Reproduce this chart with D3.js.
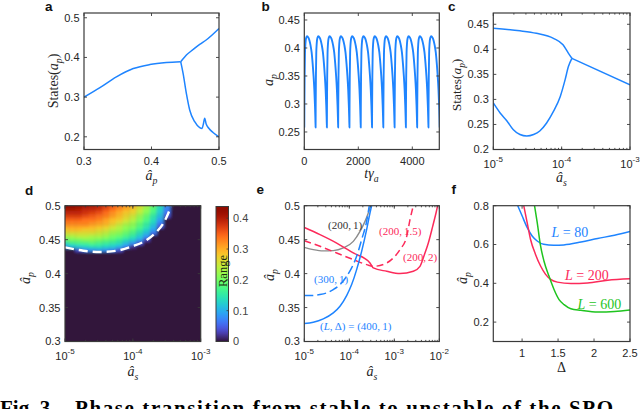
<!DOCTYPE html>
<html><head><meta charset="utf-8">
<script src="https://cdn.jsdelivr.net/npm/d3@7"></script>
<style>body{margin:0;background:#fff;overflow:hidden} svg{display:block}</style>
</head><body><svg id="fig" width="640" height="409"></svg>
<script>
// ---------------- DATA ----------------
// panel a: states vs a_p
const aStable = [[0.3,0.3],[0.3236,0.324],[0.348,0.351],[0.373,0.372],[0.3975,0.382],[0.422,0.387],[0.4433,0.389]];
const aUpper  = [[0.4433,0.389],[0.4517,0.406],[0.4616,0.42],[0.4714,0.433],[0.481,0.444],[0.5,0.473]];
const aLower  = [[0.4433,0.389],[0.4468,0.36],[0.4517,0.309],[0.4567,0.267],[0.464,0.238],[0.4714,0.223],[0.475,0.221],[0.4768,0.232],[0.4788,0.247],[0.481,0.232],[0.4852,0.221],[0.4911,0.211],[0.5,0.2]];
const aTicksX = [0.3,0.4,0.5], aTicksY = [0.2,0.3,0.4,0.5];
// panel b: time trace (trough times and one-cycle profile)
const bTroughs = [0,418,836,1254,1672,2090,2508,2926,3344,3762,4180,4598,5016];
const bShape = [[0,0.258],[0.01,0.3],[0.03,0.35],[0.06,0.39],[0.1,0.408],[0.16,0.418],[0.25,0.421],[0.35,0.419],[0.45,0.414],[0.55,0.405],[0.65,0.392],[0.74,0.372],[0.82,0.35],[0.89,0.325],[0.945,0.298],[0.98,0.275],[1,0.258]];
const bTicksX = [0,2000,4000], bTicksY = [0.25,0.3,0.35,0.4,0.45];
// panel c: states vs a_s (log10 a_s, a_p)
const cUpper = [[-5,0.442],[-4.61,0.437],[-4.37,0.432],[-4.12,0.422],[-3.98,0.409],[-3.9,0.392],[-3.85,0.382]];
const cRight = [[-3.85,0.382],[-3,0.329]];
const cLower = [[-5,0.293],[-4.9,0.273],[-4.8,0.257],[-4.71,0.24],[-4.61,0.23],[-4.51,0.227],[-4.41,0.23],[-4.32,0.237],[-4.22,0.253],[-4.12,0.276],[-4.02,0.306],[-3.95,0.339],[-3.9,0.366],[-3.85,0.382]];
const cTicksX = [1e-5,1e-4,1e-3], cTicksY = [0.2,0.25,0.3,0.35,0.4,0.45];
// panel d: Range map, columns = log10 a_s, rows = a_p
const dCols = [-5.0,-4.9,-4.8,-4.7,-4.6,-4.5,-4.4,-4.3,-4.2,-4.1,-4.0,-3.9,-3.8,-3.7,-3.6,-3.5,-3.4];
const dRows = [0.430,0.435,0.440,0.445,0.450,0.455,0.460,0.465,0.470,0.475,0.480,0.485,0.490,0.495,0.500];
const dRange = [
 [0,0,0.08,0.14,0.19,0.23,0.26,0.28,0.31,0.33,0.35,0.37,0.39,0.41,0.43],
 [0,0,0.11,0.16,0.20,0.23,0.26,0.29,0.31,0.33,0.35,0.37,0.39,0.41,0.425],
 [0,0.04,0.12,0.17,0.20,0.24,0.26,0.29,0.31,0.33,0.35,0.37,0.39,0.40,0.42],
 [0,0.07,0.13,0.17,0.21,0.24,0.26,0.28,0.31,0.33,0.34,0.36,0.38,0.39,0.41],
 [0,0.08,0.14,0.18,0.21,0.23,0.26,0.28,0.30,0.32,0.34,0.35,0.37,0.39,0.40],
 [0,0.09,0.14,0.17,0.20,0.23,0.25,0.27,0.29,0.31,0.33,0.34,0.36,0.38,0.39],
 [0,0.08,0.13,0.16,0.19,0.22,0.24,0.26,0.28,0.30,0.31,0.33,0.34,0.36,0.37],
 [0,0.07,0.12,0.15,0.18,0.20,0.22,0.24,0.26,0.28,0.29,0.31,0.32,0.34,0.35],
 [0,0.04,0.10,0.14,0.16,0.19,0.21,0.23,0.24,0.26,0.28,0.29,0.30,0.32,0.33],
 [0,0,0.07,0.11,0.14,0.17,0.19,0.21,0.22,0.24,0.26,0.27,0.28,0.30,0.31],
 [0,0,0.02,0.08,0.12,0.15,0.17,0.19,0.21,0.22,0.24,0.25,0.27,0.28,0.29],
 [0,0,0,0.04,0.09,0.12,0.14,0.16,0.18,0.19,0.21,0.22,0.24,0.25,0.26],
 [0,0,0,0,0.03,0.08,0.11,0.13,0.15,0.16,0.18,0.19,0.21,0.22,0.23],
 [0,0,0,0,0,0,0.06,0.09,0.11,0.13,0.14,0.15,0.17,0.18,0.19],
 [0,0,0,0,0,0,0,0,0.05,0.07,0.09,0.11,0.12,0.13,0.14],
 [0,0,0,0,0,0,0,0,0,0,0,0.04,0.06,0.07,0.08],
 [0,0,0,0,0,0,0,0,0,0,0,0,0,0,0]
];
const dBoundary = [[-5,0.4387],[-4.73,0.4337],[-4.484,0.4318],[-4.238,0.4337],[-3.993,0.4407],[-3.796,0.4495],[-3.649,0.4617],[-3.551,0.4741],[-3.478,0.4888],[-3.442,0.4985]];
const dTicksX = [1e-5,1e-4,1e-3], dTicksY = [0.3,0.35,0.4,0.45,0.5];
const cbTicks = [0,0.1,0.2,0.3,0.4], cbMax = 0.438;
// panel e: thresholds (log10 a_s, a_p)
const eGray200_1 = [[-5,0.4387],[-4.8,0.4353],[-4.578,0.4334],[-4.356,0.4338],[-4.133,0.4378],[-3.911,0.4475],[-3.762,0.4622],[-3.651,0.4769],[-3.578,0.4892],[-3.524,0.5]];
const eBlue400_1 = [[-5,0.3265],[-4.8,0.3284],[-4.578,0.3334],[-4.356,0.3422],[-4.207,0.352],[-4.059,0.3676],[-3.948,0.3838],[-3.837,0.4059],[-3.726,0.4328],[-3.615,0.4647],[-3.541,0.4892],[-3.504,0.5]];
const eBlue300_1 = [[-5,0.3676],[-4.8,0.3678],[-4.652,0.3691],[-4.504,0.3716],[-4.356,0.3765],[-4.207,0.3838],[-4.059,0.396],[-3.948,0.4084],[-3.837,0.4255],[-3.726,0.45],[-3.615,0.4769],[-3.556,0.5]];
const eRed200_15 = [[-5,0.4485],[-4.651,0.4402],[-4.28,0.4304],[-3.911,0.4206],[-3.613,0.4132],[-3.467,0.4107],[-3.169,0.4157],[-3.022,0.4231],[-2.873,0.4353],[-2.724,0.4549],[-2.651,0.4794],[-2.578,0.5]];
const eRed200_2 = [[-5,0.468],[-4.651,0.4574],[-4.28,0.445],[-3.911,0.4304],[-3.54,0.4157],[-3.467,0.4084],[-3.169,0.4034],[-2.873,0.40],[-2.578,0.4034],[-2.429,0.4107],[-2.33,0.428],[-2.244,0.4451],[-2.147,0.4696],[-2.073,0.4893],[-2.036,0.5]];
const eTicksX = [1e-5,1e-4,1e-3,1e-2], eTicksY = [0.3,0.35,0.4,0.45,0.5];
// panel f: a_p threshold vs Delta
const fL80  = [[0.94,0.8],[1.0,0.748],[1.07,0.688],[1.14,0.644],[1.21,0.618],[1.3,0.601],[1.44,0.596],[1.58,0.598],[1.82,0.613],[2.05,0.631],[2.285,0.648],[2.5,0.667]];
const fL200 = [[1.023,0.8],[1.07,0.714],[1.117,0.627],[1.187,0.549],[1.257,0.489],[1.327,0.446],[1.397,0.42],[1.49,0.406],[1.678,0.399],[1.911,0.402],[2.19,0.416],[2.5,0.423]];
const fL600 = [[1.173,0.8],[1.21,0.714],[1.257,0.593],[1.304,0.515],[1.374,0.437],[1.444,0.368],[1.514,0.316],[1.584,0.29],[1.678,0.269],[1.818,0.261],[2.05,0.252],[2.285,0.255],[2.5,0.263]];
const fTicksX = [1,1.5,2,2.5], fTicksY = [0.2,0.4,0.6,0.8];

// ---------------- STYLE / HELPERS ----------------
const SANS = '"Liberation Sans", Arial, Helvetica, sans-serif';
const SERIF = '"Liberation Serif", "Times New Roman", serif';
const AX = '#3a3a3a', TXT = '#262626';
const BLUE = '#1e84ff', RED = '#fc2a5a', GREEN = '#1fc41f', GRAY = '#8c8c8c';
const TL = 3;
const svg = d3.select('#fig');
const defs = svg.append('defs');
let clipN = 0;

function turboC(t){
  t = Math.max(0, Math.min(1, t));
  if (t < 0.04) return d3.interpolateRgb('#30123b', d3.interpolateTurbo(0.04))(t/0.04);
  return d3.interpolateTurbo(t);
}

function panel(cfg){
  const x = (cfg.log ? d3.scaleLog() : d3.scaleLinear()).domain(cfg.xd).range([cfg.x0, cfg.x1]);
  const y = d3.scaleLinear().domain(cfg.yd).range([cfg.y1, cfg.y0]);
  const id = 'clip' + (clipN++);
  defs.append('clipPath').attr('id', id).append('rect')
    .attr('x', cfg.x0).attr('y', cfg.y0).attr('width', cfg.x1 - cfg.x0).attr('height', cfg.y1 - cfg.y0);
  const g = svg.append('g');
  const plot = g.append('g').attr('clip-path', `url(#${id})`);
  return {x, y, g, plot, cfg};
}

function mtext(parent, parts, size, attrs){
  const t = parent.append('text').attr('font-family', SERIF).attr('font-size', size);
  Object.entries(attrs || {}).forEach(([k, v]) => t.attr(k, v));
  let shift = 0;
  parts.forEach(([s, st]) => {
    st = st || '';
    const sp = t.append('tspan').text(s);
    const target = st.includes('sub') ? size * 0.3 : 0;
    if (target !== shift) { sp.attr('dy', target - shift); shift = target; }
    if (st.startsWith('i')) sp.attr('font-style', 'italic');
    if (st.includes('sub')) sp.attr('font-size', size * 0.7);
  });
  return t;
}

function decorate(p, xt, yt){
  const {x, y, g, cfg} = p;
  const x0 = cfg.x0, x1 = cfg.x1, y0 = cfg.y0, y1 = cfg.y1;
  const ln = (a, b, c, d) => g.append('line').attr('x1', a).attr('y1', b).attr('x2', c).attr('y2', d)
      .attr('stroke', AX).attr('stroke-width', 0.9);
  if (cfg.log) {
    x.ticks().forEach(v => { const px = x(v); if (px <= x0 + 0.5 || px >= x1 - 0.5) return; ln(px, y1, px, y1 - 1.6); ln(px, y0, px, y0 + 1.6); });
  }
  xt.forEach(v => { const px = x(v); ln(px, y1, px, y1 - TL); ln(px, y0, px, y0 + TL); });
  yt.forEach(v => { const py = y(v); ln(x0, py, x0 + TL, py); ln(x1, py, x1 - TL, py); });
  g.append('rect').attr('x', x0).attr('y', y0).attr('width', x1 - x0).attr('height', y1 - y0)
    .attr('fill', 'none').attr('stroke', AX).attr('stroke-width', 1.2);
  yt.forEach(v => g.append('text').attr('x', x0 - 4.5).attr('y', y(v)).attr('dy', '0.36em')
    .attr('text-anchor', 'end').attr('font-family', SANS).attr('font-size', 11).attr('fill', TXT).text(String(v)));
  xt.forEach(v => {
    if (cfg.log) {
      const t = g.append('text').attr('x', x(v)).attr('y', y1 + 18).attr('text-anchor', 'middle')
        .attr('font-family', SANS).attr('font-size', 11).attr('fill', TXT);
      t.append('tspan').text('10');
      t.append('tspan').attr('dy', -5.5).attr('font-size', 8).text(String(Math.round(Math.log10(v))));
    } else {
      g.append('text').attr('x', x(v)).attr('y', y1 + 15.5).attr('text-anchor', 'middle')
        .attr('font-family', SANS).attr('font-size', 11).attr('fill', TXT).text(String(v));
    }
  });
}

function curve(p, data, color, w, dash, logx){
  const line = d3.line()
    .x(d => p.x(logx ? Math.pow(10, d[0]) : d[0]))
    .y(d => p.y(d[1]))
    .curve(d3.curveMonotoneX);
  const path = p.plot.append('path').attr('d', line(data)).attr('fill', 'none')
    .attr('stroke', color).attr('stroke-width', w).attr('stroke-linejoin', 'round').attr('stroke-linecap', 'butt');
  if (dash) path.attr('stroke-dasharray', dash);
  return path;
}

function ylabel(parts, x, y, size){ mtext(svg, parts, size, {'text-anchor': 'middle', fill: TXT, transform: `translate(${x},${y}) rotate(-90)`}); }
function xlabel(parts, x, y, size){ mtext(svg, parts, size, {'text-anchor': 'middle', fill: TXT, x: x, y: y}); }
function plabel(s, x, y){ svg.append('text').attr('x', x).attr('y', y).attr('font-family', SANS).attr('font-weight', 'bold').attr('font-size', 13.5).attr('fill', '#111').text(s); }

const TOP0 = 13, TOP1 = 149.5, BOT0 = 205.7, BOT1 = 341.5;

// ---------------- PANEL a ----------------
const pa = panel({x0: 84, x1: 219, y0: TOP0, y1: TOP1, xd: [0.3, 0.5], yd: [0.168, 0.512]});
[aStable, aUpper, aLower].forEach(s => curve(pa, s, BLUE, 1.5));
decorate(pa, aTicksX, aTicksY);
ylabel([['States'], ['('], ['a', 'i'], ['p', 'isub'], [')']], 57.5, 81, 14);
xlabel([['â', 'i'], ['p', 'isub']], 151.5, 179.5, 14);
plabel('a', 45, 11);

// ---------------- PANEL b ----------------
const pb = panel({x0: 304.3, x1: 439.3, y0: TOP0, y1: TOP1, xd: [0, 5000], yd: [0.2187, 0.4625]});
const bSeries = [];
bTroughs.forEach((t0, i) => {
  if (i === bTroughs.length - 1) return;
  const t1 = bTroughs[i + 1];
  bShape.forEach(([ph, v], j) => { if (i > 0 && j === 0) return; bSeries.push([t0 + ph * (t1 - t0), v]); });
});
curve(pb, bSeries, BLUE, 1.9);
decorate(pb, bTicksX, bTicksY);
ylabel([['a', 'i'], ['p', 'isub']], 272.7, 80, 14);
xlabel([['t', 'i'], ['γ', 'i'], ['a', 'isub']], 371.5, 177.5, 14);
plabel('b', 261.5, 11);

// ---------------- PANEL c ----------------
const pc = panel({x0: 493.3, x1: 630, y0: TOP0, y1: TOP1, xd: [1e-5, 1e-3], yd: [0.2, 0.4725], log: true});
[cUpper, cRight, cLower].forEach(s => curve(pc, s, BLUE, 1.5, null, true));
decorate(pc, cTicksX, cTicksY);
ylabel([['States'], ['('], ['a', 'i'], ['p', 'isub'], [')']], 461, 85, 13.5);
xlabel([['â', 'i'], ['s', 'isub']], 561.5, 182, 14);
plabel('c', 448, 11);

// ---------------- PANEL d ----------------
const pd = panel({x0: 65, x1: 200.7, y0: BOT0, y1: BOT1, xd: [1e-5, 1e-3], yd: [0.3, 0.5], log: true});
const blur = defs.append('filter').attr('id', 'heatblur').attr('x', '-5%').attr('y', '-5%').attr('width', '110%').attr('height', '110%');
blur.append('feGaussianBlur').attr('stdDeviation', 1.8).attr('edgeMode', 'duplicate');
const heat = pd.plot.append('g').attr('filter', 'url(#heatblur)');
heat.append('rect').attr('x', pd.cfg.x0 - 4).attr('y', pd.cfg.y0 - 4).attr('width', pd.cfg.x1 - pd.cfg.x0 + 8)
  .attr('height', pd.cfg.y1 - pd.cfg.y0 + 8).attr('fill', turboC(0));
const cells = [];
dCols.forEach((lx, ci) => dRows.forEach((ap, ri) => cells.push({lx, ap, v: dRange[ci][ri]})));
heat.selectAll('rect.cell').data(cells.filter(c => c.v > 0)).join('rect').attr('class', 'cell')
  .attr('x', c => pd.x(Math.pow(10, c.lx - 0.05)))
  .attr('width', c => pd.x(Math.pow(10, c.lx + 0.05)) - pd.x(Math.pow(10, c.lx - 0.05)) + 0.3)
  .attr('y', c => pd.y(c.ap + 0.0025) - (c.ap >= 0.5 ? 4 : 0))
  .attr('height', c => pd.y(c.ap - 0.0025) - pd.y(c.ap + 0.0025) + 0.3 + (c.ap >= 0.5 ? 4 : 0))
  .attr('fill', c => turboC(c.v / cbMax));
curve(pd, dBoundary, '#ffffff', 2.4, '9,5', true);
decorate(pd, dTicksX, dTicksY);
ylabel([['â', 'i'], ['p', 'isub']], 29.5, 278, 14);
xlabel([['â', 'i'], ['s', 'isub']], 133, 375.5, 14);
plabel('d', 25, 195);

// colorbar
const cb = {x0: 216, x1: 228.5, y0: 206.5, y1: 341.5};
const cbY = d3.scaleLinear().domain([0, cbMax]).range([cb.y1, cb.y0]);
const grad = defs.append('linearGradient').attr('id', 'cbgrad').attr('x1', 0).attr('y1', 1).attr('x2', 0).attr('y2', 0);
d3.range(0, 1.0001, 0.02).forEach(t => grad.append('stop').attr('offset', t).attr('stop-color', turboC(t)));
svg.append('rect').attr('x', cb.x0).attr('y', cb.y0).attr('width', cb.x1 - cb.x0).attr('height', cb.y1 - cb.y0)
  .attr('fill', 'url(#cbgrad)').attr('stroke', AX).attr('stroke-width', 1);
cbTicks.forEach(v => {
  svg.append('line').attr('x1', cb.x1).attr('x2', cb.x1 - 2).attr('y1', cbY(v)).attr('y2', cbY(v)).attr('stroke', AX).attr('stroke-width', 0.8);
  svg.append('text').attr('x', cb.x1 + 4.5).attr('y', cbY(v)).attr('dy', '0.36em').attr('font-family', SANS)
    .attr('font-size', 11).attr('fill', '#444').text(String(v));
});
svg.append('text').attr('transform', `translate(226.5,271) rotate(-90)`).attr('text-anchor', 'middle')
  .attr('font-family', SERIF).attr('font-size', 12.5).attr('fill', '#1d2b12').text('Range');

// ---------------- PANEL e ----------------
const pe = panel({x0: 304.3, x1: 439.3, y0: BOT0, y1: BOT1, xd: [1e-5, 1e-2], yd: [0.3, 0.5], log: true});
curve(pe, eGray200_1, GRAY, 1.4, null, true);
curve(pe, eRed200_2, RED, 1.5, null, true);
curve(pe, eRed200_15, RED, 1.5, '7,4', true);
curve(pe, eBlue300_1, BLUE, 1.5, '9,4', true);
curve(pe, eBlue400_1, BLUE, 1.5, null, true);
decorate(pe, eTicksX, eTicksY);
mtext(svg, [['(200,\u20091)']], 11, {x: 328, y: 228.5, fill: '#333'});
mtext(svg, [['(200,\u20091.5)']], 11, {x: 379, y: 235, fill: RED});
mtext(svg, [['(200,\u20092)']], 11, {x: 403, y: 261, fill: RED});
mtext(svg, [['(300,\u20091)']], 11, {x: 314, y: 283, fill: BLUE});
mtext(svg, [['('], ['L', 'i'], [',\u2009Δ) = (400,\u20091)']], 11, {x: 320, y: 329.5, fill: BLUE});
ylabel([['â', 'i'], ['p', 'isub']], 274, 275, 14);
xlabel([['â', 'i'], ['s', 'isub']], 372, 375.5, 14);
plabel('e', 256.5, 193.5);

// ---------------- PANEL f ----------------
const pf = panel({x0: 493.3, x1: 630, y0: BOT0, y1: BOT1, xd: [0.6, 2.5], yd: [0.1, 0.8]});
curve(pf, fL80, BLUE, 1.5);
curve(pf, fL200, RED, 1.5);
curve(pf, fL600, GREEN, 1.5);
decorate(pf, fTicksX, fTicksY);
mtext(svg, [['L', 'i'], [' = 80']], 14, {x: 551.5, y: 236.5, fill: BLUE});
mtext(svg, [['L', 'i'], [' = 200']], 14, {x: 565, y: 280, fill: RED});
mtext(svg, [['L', 'i'], [' = 600']], 14, {x: 577.5, y: 309, fill: GREEN});
ylabel([['â', 'i'], ['p', 'isub']], 467, 278, 14);
xlabel([['Δ']], 561.5, 372, 14);
plabel('f', 451.5, 194);

// ---------------- caption (cut off at bottom) ----------------
svg.append('text').attr('x', 0).attr('y', 414.5).attr('font-family', SERIF).attr('font-weight', 'bold')
  .attr('font-size', 21).attr('fill', '#000').text('Fig. 3.');
svg.append('text').attr('x', 75).attr('y', 414.5).attr('font-family', SERIF).attr('font-weight', 'bold')
  .attr('font-size', 21).attr('fill', '#000').attr('textLength', 538).attr('lengthAdjust', 'spacing')
  .text('Phase transition from stable to unstable of the SPO');
</script>
</body></html>
